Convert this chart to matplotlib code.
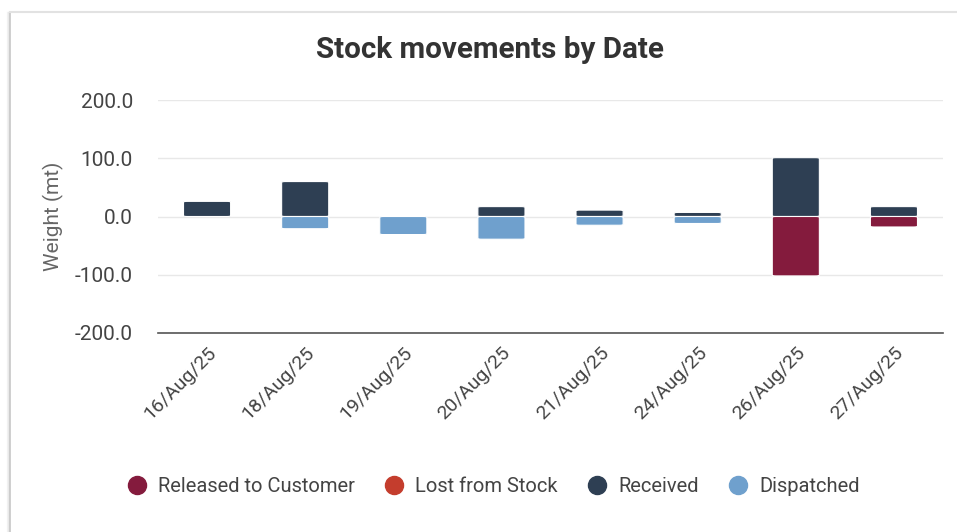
import matplotlib.pyplot as plt
import numpy as np
from matplotlib.patches import FancyBboxPatch
from matplotlib.lines import Line2D

plt.rcParams['font.family'] = ['Roboto', 'DejaVu Sans']

dates = ["16/Aug/25", "18/Aug/25", "19/Aug/25", "20/Aug/25",
         "21/Aug/25", "24/Aug/25", "26/Aug/25", "27/Aug/25"]
received = [26, 60, 0, 17, 11, 7, 101, 17]
dispatched = [0, -21, -31, -39, -15, -12, 0, 0]
released = [0, 0, 0, 0, 0, 0, -102, -18]
lost = [0, 0, 0, 0, 0, 0, 0, 0]

series = ["Released to Customer", "Lost from Stock", "Received", "Dispatched"]
colors = {"Released to Customer": "#841b3d", "Lost from Stock": "#c43d2d",
          "Received": "#2e3f53", "Dispatched": "#6fa0cd"}

fig = plt.figure(figsize=(9.57, 5.32), dpi=100)

# card outline with soft shadow
for off, a in [(3, 0.10), (2, 0.15), (1, 0.25)]:
    fig.add_artist(Line2D([(10 - off) / 957, (10 - off) / 957], [0, 1 - 12 / 532],
                          color="#999999", alpha=a, lw=1))
fig.add_artist(Line2D([10 / 957, 10 / 957], [0, 1 - 12 / 532], color="#c8c8c8", lw=1.2))
fig.add_artist(Line2D([10 / 957, 1], [1 - 12 / 532, 1 - 12 / 532], color="#e2e2e2", lw=1.5))

ax = fig.add_axes([158 / 957, 1 - 333 / 532, 785 / 957, 233 / 532])
x = np.arange(len(dates))
w = 0.48


def rbar(xc, y0, h, color):
    if h == 0:
        return
    bottom = min(y0, y0 + h)
    p = FancyBboxPatch((xc - w / 2, bottom), w, abs(h),
                       boxstyle="round,pad=0,rounding_size=0.04",
                       mutation_aspect=30, fc=color, ec="white", lw=0.8, zorder=3)
    ax.add_patch(p)


for i in x:
    rbar(i, 0, received[i], colors["Received"])
    rbar(i, 0, dispatched[i], colors["Dispatched"])
    rbar(i, dispatched[i], released[i], colors["Released to Customer"])
    rbar(i, dispatched[i] + released[i], lost[i], colors["Lost from Stock"])

ax.set_xlim(-0.5, len(dates) - 0.5)
ax.set_ylim(-200, 200)
ax.set_yticks([-200, -100, 0, 100, 200])
ax.set_yticklabels([f"{v:.1f}" for v in [-200, -100, 0, 100, 200]])
ax.grid(axis="y", color="#e8e8e8", lw=1, zorder=0)
for s in ["top", "right", "left"]:
    ax.spines[s].set_visible(False)
ax.spines["bottom"].set_color("#555555")
ax.spines["bottom"].set_linewidth(1.2)
ax.tick_params(axis="y", length=0, pad=18, labelsize=15, labelcolor="#444444")
ax.tick_params(axis="x", length=0, pad=8, labelsize=14, labelcolor="#444444")
ax.set_xticks(x)
ax.set_xticklabels(dates, rotation=45, ha="right", rotation_mode="anchor")
ax.set_ylabel("Weight (mt)", fontsize=15, color="#666666", labelpad=8)

fig.text(490 / 957, 1 - 50 / 532, "Stock movements by Date", ha="center", va="center",
         fontsize=21.3, fontweight="bold", color="#333333")

handles = [Line2D([], [], marker="o", ls="", ms=13, color=colors[s]) for s in series]
fig.legend(handles, series, loc="center", bbox_to_anchor=(491 / 957, 1 - 487 / 532),
           ncol=4, frameon=False, fontsize=14.5, handletextpad=0.35, columnspacing=1.25,
           handlelength=1.4, labelcolor="#444444")

fig.savefig("out.png", dpi=100)
